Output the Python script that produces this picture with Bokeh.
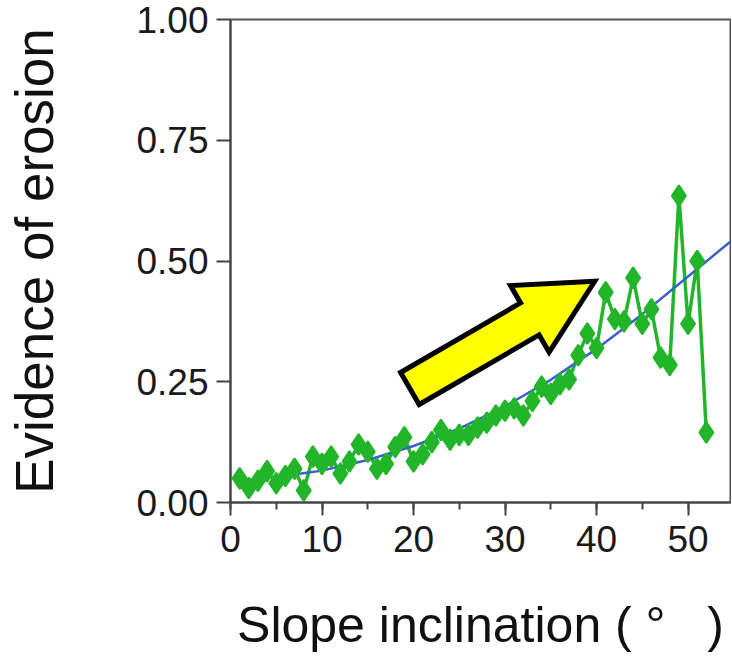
import numpy as np
from bokeh.plotting import figure
from bokeh.models import Range1d, SingleIntervalTicker, FixedTicker, NumeralTickFormatter, ColumnDataSource
from bokeh.embed import file_html
from bokeh.resources import INLINE

# ---- data ----
slope = list(range(1, 53))
erosion = [0.050, 0.030, 0.045, 0.065, 0.040, 0.055, 0.070, 0.025, 0.095, 0.080,
           0.095, 0.060, 0.085, 0.120, 0.105, 0.070, 0.080, 0.115, 0.135, 0.085,
           0.100, 0.125, 0.150, 0.130, 0.140, 0.140, 0.155, 0.165, 0.180, 0.190,
           0.195, 0.180, 0.210, 0.240, 0.225, 0.245, 0.255, 0.305, 0.350, 0.320,
           0.435, 0.380, 0.375, 0.465, 0.370, 0.400, 0.300, 0.285, 0.635, 0.370,
           0.500, 0.145]

fit_x = [7, 10, 15, 20, 25, 30, 35, 40, 45, 50, 55]
fit_y = [0.058, 0.066, 0.088, 0.117, 0.153, 0.199, 0.254, 0.318, 0.390, 0.468, 0.546]

x_ticks = [0, 10, 20, 30, 40, 50]
y_ticks = [0.0, 0.25, 0.5, 0.75, 1.0]

# arrow annotation (data coords of tail centre and tip)
arrow_tail = (19.6, 0.236)
arrow_tip = (39.8, 0.458)

X_END = 54.64
FW, FH = 500, 483

p = figure(width=731, height=654, frame_width=FW, frame_height=FH,
           x_range=Range1d(0, X_END), y_range=Range1d(0, 1),
           output_backend="svg", toolbar_location=None,
           min_border_left=230, min_border_right=1, min_border_top=19, min_border_bottom=0)
p.background_fill_color = "white"
p.border_fill_color = "white"
p.outline_line_color = "#555555"
p.outline_line_width = 2
p.xgrid.visible = False
p.ygrid.visible = False

FONT = "Liberation Sans"

p.xaxis.ticker = SingleIntervalTicker(interval=10, num_minor_ticks=2)
p.yaxis.ticker = FixedTicker(ticks=y_ticks)
p.yaxis.formatter = NumeralTickFormatter(format="0.00")

for ax in (p.xaxis[0], p.yaxis[0]):
    ax.axis_line_color = "#444444"
    ax.axis_line_width = 2
    ax.major_tick_line_color = "#444444"
    ax.major_tick_line_width = 2
    ax.minor_tick_line_color = "#444444"
    ax.minor_tick_line_width = 2
    ax.major_tick_in = 0
    ax.minor_tick_in = 0
    ax.major_label_text_font = FONT
    ax.major_label_text_font_size = "37px"
    ax.major_label_text_color = "#1a1a1a"
    ax.axis_label_text_font = FONT
    ax.axis_label_text_font_style = "normal"
    ax.axis_label_text_color = "#111111"

p.xaxis.axis_label_text_font_size = "50px"
p.yaxis.axis_label_text_font_size = "53px"

p.xaxis.major_tick_out = 13
p.xaxis.minor_tick_out = 7
p.xaxis.major_label_standoff = 10
p.xaxis.axis_label_standoff = 42
p.xaxis.axis_label = "Slope inclination (\u00a0°\u00a0\u00a0\u00a0)"

p.yaxis.major_tick_out = 14
p.yaxis.minor_tick_out = 0
p.yaxis.minor_tick_line_color = None
p.yaxis.major_label_standoff = 8
p.yaxis.axis_label_standoff = 69
p.yaxis.axis_label = "Evidence of erosion"

GREEN = "#22b52a"
BLUE = "#3a5fd0"

src = ColumnDataSource(dict(x=slope, y=erosion))
p.line("x", "y", source=src, line_color=GREEN, line_width=3.5)
p.line(fit_x, fit_y, line_color=BLUE, line_width=2.5)
p.scatter("x", "y", source=src, marker="diamond", size=21,
          fill_color=GREEN, line_color=GREEN, line_width=2)

# block arrow: geometry computed in screen pixels, converted to data units
sx = FW / X_END
sy = FH / 1.0
T = np.array([arrow_tail[0] * sx, -arrow_tail[1] * sy])
P = np.array([arrow_tip[0] * sx, -arrow_tip[1] * sy])
d = P - T
u = d / np.linalg.norm(d)
n = np.array([-u[1], u[0]])
shaft_half, head_half, head_len = 18.5, 38.5, 75.0
B = P - u * head_len
pts = [T + n * shaft_half, B + n * shaft_half, B + n * head_half, P,
       B - n * head_half, B - n * shaft_half, T - n * shaft_half]
ax_ = [pt[0] / sx for pt in pts]
ay_ = [-pt[1] / sy for pt in pts]
p.patch(ax_, ay_, fill_color="#ffff00", line_color="black", line_width=5, line_join="miter")

open("out.html", "w").write(file_html(p, INLINE))
